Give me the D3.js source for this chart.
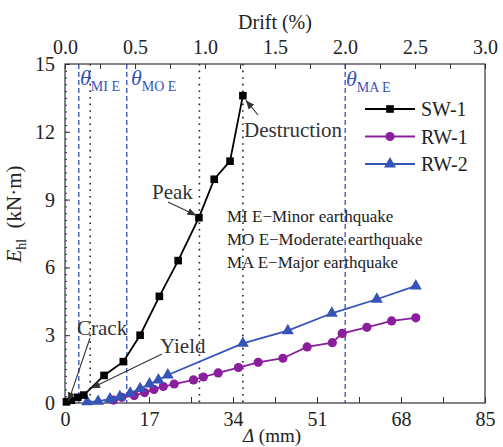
<!DOCTYPE html>
<html><head><meta charset="utf-8">
<script src="https://cdn.jsdelivr.net/npm/d3@7"></script>
<style>body{margin:0;background:#fff}svg{display:block;font-family:"Liberation Serif","Times New Roman",serif}</style>
</head><body><svg id="c" width="503" height="447"></svg>
<script>
// ---- data ----
const sw1 = [[0.3,0.05],[1.3,0.12],[2.6,0.25],[3.8,0.35],[7.9,1.22],[11.8,1.83],[15.2,3.0],[19.1,4.72],[22.9,6.3],[27.1,8.2],[30.2,9.9],[33.4,10.7],[36.0,13.6]];
const rw1 = [[9.8,0.13],[11.5,0.25],[14.0,0.33],[16.1,0.46],[18.0,0.6],[19.9,0.73],[22.1,0.84],[26.0,1.02],[28.0,1.15],[31.0,1.33],[35.1,1.57],[39.1,1.8],[44.1,1.98],[49.0,2.48],[54.1,2.67],[56.1,3.08],[61.1,3.35],[66.1,3.63],[71.0,3.77]];
const rw2 = [[4.5,0.05],[6.7,0.07],[9.1,0.18],[11.1,0.28],[13.2,0.44],[15.2,0.64],[17.1,0.84],[18.9,1.02],[20.8,1.24],[36.0,2.64],[45.1,3.2],[54.0,3.97],[63.1,4.59],[71.0,5.18]];
const xTicks = [0,17,34,51,68,85];
const yTicks = [0,3,6,9,12,15];
const driftTicks = [0,0.5,1,1.5,2,2.5,3];
const seismicLines = [2.8,12.5,56.7];       // mm, blue dashed
const seismicLabels = ["MI E","MO E","MA E"];
const stateLines = [5.1,27.2,36.0];         // mm, black dotted
const notes = ["MI E\u2212Minor earthquake","MO E\u2212Moderate earthquake","MA E\u2212Major earthquake"];
const seriesNames = ["SW-1","RW-1","RW-2"];

const BLUE = "#3554b8", PURPLE = "#8a1e9c";
const svg = d3.select("#c");
const L=65, R=485, T=64, B=403;
const x = d3.scaleLinear().domain([0,85]).range([L,R]);
const xd = d3.scaleLinear().domain([0,3]).range([L,R]);
const y = d3.scaleLinear().domain([0,15]).range([B,T]);

svg.append("defs").append("marker").attr("id","ah").attr("viewBox","0 0 10 10")
  .attr("refX",10).attr("refY",5).attr("markerWidth",9).attr("markerHeight",9)
  .attr("orient","auto").attr("markerUnits","userSpaceOnUse")
  .append("path").attr("d","M0,1 L10,5 L0,9 Z").attr("fill","#333");

// reference lines
svg.selectAll(".sl").data(seismicLines).join("line")
  .attr("x1",d=>x(d)).attr("x2",d=>x(d)).attr("y1",T).attr("y2",B)
  .attr("stroke",BLUE).attr("stroke-width",1.3).attr("stroke-dasharray","5,3");
svg.selectAll(".dl").data(stateLines).join("line")
  .attr("x1",d=>x(d)).attr("x2",d=>x(d)).attr("y1",T).attr("y2",B)
  .attr("stroke","#222").attr("stroke-width",1.6).attr("stroke-dasharray","1.6,5");

// axes
function styleAxis(g){g.select(".domain").remove();g.selectAll("text").attr("font-size",20).attr("fill","#222").attr("font-family","Liberation Serif");g.selectAll("line").attr("stroke","#333");}
svg.append("g").attr("transform",`translate(0,${B})`)
  .call(d3.axisBottom(x).tickValues(d3.range(0,86,8.5)).tickSize(-6).tickFormat(d=>xTicks.includes(d)?d:"").tickPadding(9)).call(styleAxis);
svg.append("g").attr("transform",`translate(0,${T})`)
  .call(d3.axisTop(xd).tickValues(d3.range(0,3.01,0.25)).tickSize(-5).tickFormat(d=>driftTicks.some(v=>Math.abs(v-d)<1e-9)?d3.format(".1f")(d):"").tickPadding(10)).call(styleAxis);
svg.append("g").attr("transform",`translate(${L},0)`)
  .call(d3.axisLeft(y).tickValues(yTicks).tickSize(-5).tickPadding(10)).call(styleAxis);
svg.append("g").attr("transform",`translate(${L},0)`)
  .call(d3.axisLeft(y).tickValues(d3.range(0,15.01,0.3)).tickSize(-2).tickFormat("")).call(styleAxis);
svg.append("rect").attr("x",L).attr("y",T).attr("width",R-L).attr("height",B-T)
  .attr("fill","none").attr("stroke","#333").attr("stroke-width",1.2);

// axis titles
svg.append("text").attr("x",(L+R)/2).attr("y",29).attr("text-anchor","middle").attr("font-size",20).attr("fill","#222").text("Drift (%)");
const xl = svg.append("text").attr("x",(L+R)/2-3).attr("y",442).attr("text-anchor","middle").attr("font-size",19).attr("fill","#222");
xl.append("tspan").attr("font-style","italic").text("\u0394");
xl.append("tspan").text(" (mm)");
const yl = svg.append("text").attr("transform","translate(21,214) rotate(-90)").attr("text-anchor","middle").attr("font-size",21).attr("fill","#222");
yl.append("tspan").attr("font-style","italic").text("E");
yl.append("tspan").attr("font-size",14).attr("dy",5).text("hl");
yl.append("tspan").attr("dy",-5).text("\u2002(kN\u00b7m)");

// series
const line = d3.line().x(d=>x(d[0])).y(d=>y(d[1]));
const series = [{n:seriesNames[0],d:sw1,c:"#000",m:"sq"},{n:seriesNames[1],d:rw1,c:PURPLE,m:"ci"},{n:seriesNames[2],d:rw2,c:BLUE,m:"tr"}];
function marker(g,m,c){
  if(m==="sq") g.append("rect").attr("x",-3.8).attr("y",-3.8).attr("width",7.6).attr("height",7.6).attr("fill",c);
  else if(m==="ci") g.append("circle").attr("r",4.6).attr("fill",c);
  else g.append("path").attr("d",d3.symbol(d3.symbolTriangle,62)()).attr("fill",c);
}
[series[1],series[2],series[0]].forEach(s=>{
  svg.append("path").attr("d",line(s.d)).attr("fill","none").attr("stroke",s.c).attr("stroke-width",1.8);
  s.d.forEach(p=>{const g=svg.append("g").attr("transform",`translate(${x(p[0])},${y(p[1])})`);marker(g,s.m,s.c);});
});

// legend
series.forEach((s,i)=>{
  const yy = 109 + i*27.5;
  svg.append("line").attr("x1",365).attr("x2",415).attr("y1",yy).attr("y2",yy).attr("stroke",s.c).attr("stroke-width",1.8);
  const g=svg.append("g").attr("transform",`translate(390,${yy})`);marker(g,s.m,s.c);
  svg.append("text").attr("x",421).attr("y",yy+7).attr("font-size",20).attr("fill","#222").text(s.n);
});

// theta labels
const thX=[80,131,346], thY=[85,85,86];
seismicLabels.forEach((lb,i)=>{
  const t=svg.append("text").attr("x",thX[i]).attr("y",thY[i]).attr("fill",BLUE).attr("font-size",22);
  t.append("tspan").attr("font-style","italic").text("\u03b8");
  t.append("tspan").attr("font-size",14).attr("dy",6).text(lb);
});

// notes
notes.forEach((n,i)=>svg.append("text").attr("x",227).attr("y",222+i*23).attr("font-size",17).attr("fill","#222").text(n));

// annotations
function ann(txt,tx,ty,x1,y1,pt){
  svg.append("text").attr("x",tx).attr("y",ty).attr("font-size",21).attr("fill","#333").text(txt);
  svg.append("line").attr("x1",x1).attr("y1",y1).attr("x2",x(pt[0])).attr("y2",y(pt[1]))
    .attr("stroke","#333").attr("stroke-width",1.1).attr("marker-end","url(#ah)");
}
ann("Destruction",244,137,258,115,[36.6,13.4]);
ann("Peak",152,199,168,202,[26.6,8.3]);
ann("Crack",77,335,90,338,[0.7,0.07]);
ann("Yield",160,353,162,354,[5.3,0.65]);
</script></body></html>
